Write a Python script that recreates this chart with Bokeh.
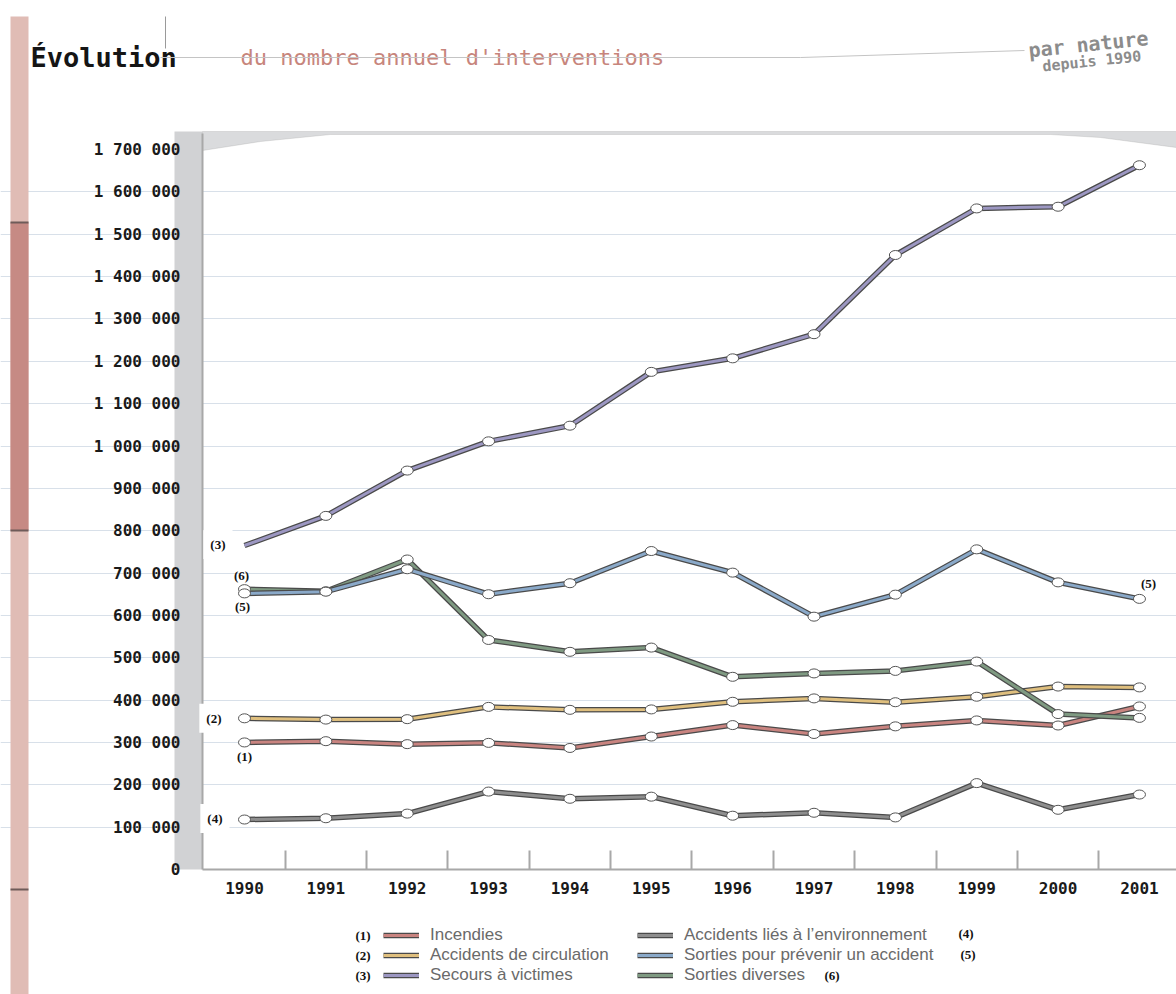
from bokeh.plotting import figure
from bokeh.models import (Range1d, FixedTicker, CustomJSTickFormatter, Label, BoxAnnotation,
                          PolyAnnotation, Arrow, Legend, LegendItem)
from bokeh.embed import file_html
from bokeh.resources import INLINE

# ---------------- data ----------------
years = [1990, 1991, 1992, 1993, 1994, 1995, 1996, 1997, 1998, 1999, 2000, 2001]
year_labels = [str(y) for y in years]
incendies = [300000, 303000, 296000, 299000, 287000, 314000, 341000, 320000, 338000, 352000, 340000, 385000]
accidents_circulation = [357000, 354000, 355000, 384000, 377000, 378000, 396000, 404000, 395000, 408000, 432000, 430000]
secours_victimes = [765000, 835000, 942000, 1011000, 1048000, 1175000, 1207000, 1264000, 1451000, 1561000, 1565000, 1663000]
accidents_environnement = [118000, 121000, 132000, 184000, 167000, 172000, 127000, 134000, 123000, 204000, 141000, 177000]
sorties_prevenir = [652000, 656000, 709000, 650000, 676000, 752000, 701000, 597000, 649000, 756000, 678000, 639000]
sorties_diverses = [662000, 657000, 732000, 542000, 514000, 524000, 455000, 463000, 469000, 491000, 367000, 358000]
y_ticks = list(range(0, 1700001, 100000))

series_names = ["Incendies", "Accidents de circulation", "Secours à victimes",
                "Accidents liés à l’environnement", "Sorties pour prévenir un accident", "Sorties diverses"]
series_values = [incendies, accidents_circulation, secours_victimes,
                 accidents_environnement, sorties_prevenir, sorties_diverses]
series_colors = ["#c98480", "#dfbf7e", "#9c97c2", "#8e8e8e", "#8aa9c9", "#7f9a82"]

# ---------------- figure (frame = whole canvas) ----------------
W, H = 1176, 994
PX_YEAR = 81.36          # pixels per year
PX_100K = 42.35          # pixels per 100 000
X0_PX, Y0_PX = 244, 869  # pixel position of (1990, 0)
x_start = years[0] - X0_PX / PX_YEAR
x_end = years[0] + (W - X0_PX) / PX_YEAR
y_start = -(H - Y0_PX) / PX_100K * 100000
y_end = Y0_PX / PX_100K * 100000
chart_left = years[0] - (X0_PX - 202) / PX_YEAR
chart_top = (Y0_PX - 133) / PX_100K * 100000

p = figure(width=W, height=H, output_backend="svg", toolbar_location=None,
           x_range=Range1d(x_start, x_end), y_range=Range1d(y_start, y_end),
           min_border=0, min_border_left=0, min_border_right=0, min_border_top=0, min_border_bottom=0)
p.outline_line_color = None
p.background_fill_color = "white"
p.border_fill_color = "white"

p.xgrid.grid_line_color = None
p.ygrid.ticker = FixedTicker(ticks=y_ticks[1:-1])
p.ygrid.bounds = (chart_left, x_end)
p.ygrid.grid_line_color = "#d8e0e9"
p.ygrid.grid_line_width = 1

mono = "DejaVu Sans Mono"
p.xaxis.fixed_location = 0
p.xaxis.bounds = (chart_left, x_end)
p.xaxis.ticker = FixedTicker(ticks=years, minor_ticks=[y + 0.5 for y in years[:-1]])
p.xaxis.major_label_overrides = {y: l for y, l in zip(years, year_labels)}
p.xaxis.major_tick_line_color = None
p.xaxis.minor_tick_in = 19
p.xaxis.minor_tick_out = 0
p.xaxis.minor_tick_line_color = "#a8a8a8"
p.xaxis.minor_tick_line_width = 2
p.xaxis.axis_line_color = "#a8a8a8"
p.xaxis.axis_line_width = 2
p.xaxis.major_label_standoff = 6
p.xaxis.major_label_text_font = mono
p.xaxis.major_label_text_font_style = "bold"
p.xaxis.major_label_text_font_size = "16px"
p.xaxis.major_label_text_color = "#1a1a1a"

p.yaxis.fixed_location = chart_left
p.yaxis.bounds = (0, chart_top)
p.yaxis.ticker = FixedTicker(ticks=y_ticks)
p.yaxis.formatter = CustomJSTickFormatter(
    code="return Math.round(tick).toString().replace(/\\B(?=(\\d{3})+(?!\\d))/g, ' ');")
p.yaxis.major_tick_line_color = None
p.yaxis.minor_tick_line_color = None
p.yaxis.axis_line_color = "#a8a8a8"
p.yaxis.axis_line_width = 2
p.yaxis.major_label_standoff = 16
p.yaxis.major_label_text_font = mono
p.yaxis.major_label_text_font_style = "bold"
p.yaxis.major_label_text_font_size = "16px"
p.yaxis.major_label_text_color = "#1a1a1a"

S = dict(left_units="screen", right_units="screen", top_units="screen", bottom_units="screen")

# left gray wall of the chart
p.add_layout(BoxAnnotation(left=174, right=202, bottom=125, top=863, fill_color="#d1d2d4", fill_alpha=1,
                           line_color=None, level="underlay", **S))
# curved top edge
p.add_layout(PolyAnnotation(xs=[202, 202, 260, 330, 1050, 1100, 1176, 1176],
                            ys=[863, 844, 853, 860, 860, 857, 847, 863],
                            xs_units="screen", ys_units="screen", fill_color="#dadbdd", fill_alpha=1,
                            line_color="#a6a6a6", line_width=1, level="underlay"))

# left pink stripe
p.add_layout(BoxAnnotation(left=10, right=28, bottom=0, top=978, fill_color="#e0bcb5", fill_alpha=1,
                           line_color=None, **S))
p.add_layout(BoxAnnotation(left=10, right=28, bottom=464, top=772, fill_color="#c68a84", fill_alpha=1,
                           line_color=None, **S))
for yy in [772, 464, 105]:
    p.add_layout(BoxAnnotation(left=10, right=28, bottom=yy - 1, top=yy + 1, fill_color="#6e5b59",
                               fill_alpha=1, line_color=None, **S))

# title
p.add_layout(Label(x=30, y=937, x_units="screen", y_units="screen", text="Évolution",
                   text_font=mono, text_font_style="bold", text_font_size="27px", text_color="#151515",
                   text_baseline="alphabetic"))
p.add_layout(Label(x=240, y=937, x_units="screen", y_units="screen", text="du nombre annuel d'interventions",
                   text_font=mono, text_font_size="22px", text_color="#c7857c", text_baseline="alphabetic"))
p.add_layout(Arrow(end=None, x_start=160, y_start=937, x_end=800, y_end=937, start_units="screen",
                   end_units="screen", line_color="#c4c4c4", line_width=1))
p.add_layout(Arrow(end=None, x_start=800, y_start=937, x_end=1024, y_end=944, start_units="screen",
                   end_units="screen", line_color="#c4c4c4", line_width=1))
p.add_layout(Arrow(end=None, x_start=165, y_start=978, x_end=165, y_end=946, start_units="screen",
                   end_units="screen", line_color="#9a9a9a", line_width=1))
p.add_layout(Label(x=1028, y=944, x_units="screen", y_units="screen", text="par nature",
                   text_font=mono, text_font_style="bold", text_font_size="20px", text_color="#8c8c8c",
                   angle=6, angle_units="deg", text_baseline="alphabetic"))
p.add_layout(Label(x=1042, y=928, x_units="screen", y_units="screen", text="depuis 1990",
                   text_font=mono, text_font_style="bold", text_font_size="15px", text_color="#8c8c8c",
                   angle=6, angle_units="deg", text_baseline="alphabetic"))

# ---------------- series ----------------
order = [3, 0, 1, 5, 4, 2]
line_renderers = {}
for i in order:
    dark = p.line(years, series_values[i], line_color="#4a4a4a", line_width=5.5, line_join="round")
    col = p.line(years, series_values[i], line_color=series_colors[i], line_width=3, line_join="round")
    line_renderers[i] = [dark, col]
for i in order:
    xs, ys = years, series_values[i]
    if i == 2:
        xs, ys = years[1:], series_values[i][1:]
    p.ellipse(xs, ys, width=12, height=9, width_units="screen", height_units="screen",
              fill_color="white", line_color="#555555", line_width=1)

# in-chart series labels
serif = "Liberation Serif"
def tag(text, x, y, dx, dy, align, bg=False):
    kw = dict(background_fill_color="white", background_fill_alpha=1, padding=7) if bg else {}
    p.add_layout(Label(x=x, y=y, x_offset=dx, y_offset=dy, text=text, text_align=align,
                       text_baseline="middle", text_font=serif, text_font_style="bold",
                       text_font_size="13px", text_color="#111111", **kw))

tag("(3)", years[0], secours_victimes[0], -12, 1, "right", True)
tag("(2)", years[0], accidents_circulation[0], -16, 0, "right", True)
tag("(4)", years[0], accidents_environnement[0], -15, 1, "right", True)
tag("(6)", years[0], sorties_diverses[0], -3, 14, "center")
tag("(5)", years[0], sorties_prevenir[0], -2, -13, "center")
tag("(1)", years[0], incendies[0], 0, -14, "center")
tag("(5)", years[-1], sorties_prevenir[-1], 9, 15, "center")

# ---------------- legend ----------------
def make_legend(idx, x, y):
    items = [LegendItem(label=series_names[i], renderers=line_renderers[i]) for i in idx]
    lg = Legend(items=items, location=(x, y), orientation="vertical", padding=0, margin=0, spacing=0,
                glyph_width=36, glyph_height=20, label_height=20, label_standoff=11,
                label_text_font="Liberation Sans", label_text_font_size="17px", label_text_color="#6a6a6a",
                background_fill_alpha=0, border_line_color=None)
    p.add_layout(lg)

make_legend([0, 1, 2], 383, 9)
make_legend([3, 4, 5], 637, 9)

for txt, x, y in [("(1)", 355, 59), ("(2)", 355, 39), ("(3)", 355, 19),
                  ("(4)", 958, 61), ("(5)", 960, 40), ("(6)", 824, 19)]:
    p.add_layout(Label(x=x, y=y, x_units="screen", y_units="screen", text=txt, text_baseline="middle",
                       text_font=serif, text_font_style="bold", text_font_size="13px", text_color="#111111"))

open("out.html", "w").write(file_html(p, INLINE))
